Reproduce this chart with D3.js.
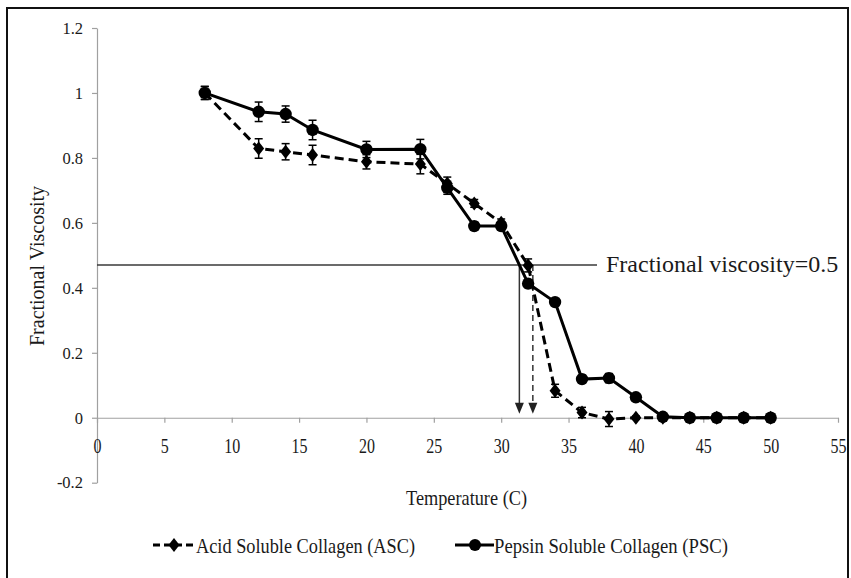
<!DOCTYPE html>
<html>
<head>
<meta charset="utf-8">
<script src="https://cdn.jsdelivr.net/npm/d3@7"></script>
<style>
body { margin: 0; background: #fff; }
text { font-family: "Liberation Serif", "Times New Roman", serif; fill: #1a1a1a; }
</style>
</head>
<body>
<script>
// temperatures (C) and fractional viscosity
var temps = [8, 12, 14, 16, 20, 24, 26, 28, 30, 32, 34, 36, 38, 40, 42, 44, 46, 48, 50];
var ascValues = [1.0, 0.829, 0.819, 0.809, 0.788, 0.781, 0.721, 0.66, 0.6, 0.469, 0.083, 0.016, -0.004, 0, 0, 0, 0, 0, 0];
var ascErrors = [0.02, 0.03, 0.025, 0.03, 0.022, 0.03, 0.02, 0.012, 0.012, 0.02, 0.02, 0.016, 0.023, 0.005, 0.004, 0.004, 0.004, 0.004, 0.004];
var pscValues = [1.0, 0.942, 0.935, 0.886, 0.826, 0.827, 0.708, 0.59, 0.59, 0.413, 0.356, 0.119, 0.122, 0.063, 0.003, 0, 0, 0, 0];
var pscErrors = [0.02, 0.03, 0.025, 0.03, 0.025, 0.03, 0.02, 0.012, 0.012, 0.012, 0.01, 0.012, 0.014, 0.01, 0.005, 0.005, 0.005, 0.005, 0.005];
var xTicks = [0, 5, 10, 15, 20, 25, 30, 35, 40, 45, 50, 55];
var yTicks = [-0.2, 0, 0.2, 0.4, 0.6, 0.8, 1, 1.2];
var refLevel = 0.47;
var pscCross = 31.35, ascCross = 32.35;

var w = 851;
var h = 578;

var svg = d3.select("body").append("svg")
  .attr("width", w)
  .attr("height", h);

svg.append("rect") //outer frame
  .attr("x", 7).attr("y", 8)
  .attr("width", 841).attr("height", 600)
  .attr("fill", "#fff")
  .attr("stroke", "#111")
  .attr("stroke-width", 2);

var x = d3.scaleLinear().domain([0, 55]).range([97, 838]);
var y = d3.scaleLinear().domain([-0.2, 1.2]).range([482.7, 28]);

var fmt = function (d) { return String(+d.toFixed(1)); };

// y axis
var gy = svg.append("g")
  .attr("transform", "translate(" + x(0) + ",0)")
  .call(d3.axisLeft(y).tickValues(yTicks).tickFormat(fmt).tickSize(5).tickSizeOuter(0).tickPadding(9));
gy.selectAll("text").style("font-size", "16.5px");

// x axis at zero
var gx = svg.append("g")
  .attr("transform", "translate(0," + y(0) + ")")
  .call(d3.axisBottom(x).tickValues(xTicks).tickSize(5).tickSizeOuter(0).tickPadding(16));
gx.selectAll("text").style("font-size", "20px").attr("transform", "scale(0.8,1)")
  .attr("x", function (d) { return 0; });

svg.selectAll(".domain, .tick line").attr("stroke", "#a0a0a0").attr("stroke-width", 1.2);

// axis titles
svg.append("text")
  .attr("transform", "translate(44,266) rotate(-90)")
  .attr("text-anchor", "middle")
  .style("font-size", "20px")
  .text("Fractional Viscosity");

svg.append("text")
  .attr("x", 406).attr("y", 505)
  .attr("textLength", 121).attr("lengthAdjust", "spacingAndGlyphs")
  .style("font-size", "21px")
  .text("Temperature (C)");

// reference line and arrows
svg.append("line")
  .attr("x1", x(0)).attr("x2", 597)
  .attr("y1", y(refLevel)).attr("y2", y(refLevel))
  .attr("stroke", "#3a3a3a").attr("stroke-width", 1.5);

svg.append("text")
  .attr("x", 606).attr("y", 272)
  .style("font-size", "24px")
  .text("Fractional viscosity=0.5");

var arrows = [{t: pscCross, dash: null}, {t: ascCross, dash: "6,4"}];
arrows.forEach(function (a) {
  var tipY = y(0) - 4;
  svg.append("line")
    .attr("x1", x(a.t)).attr("x2", x(a.t))
    .attr("y1", y(refLevel)).attr("y2", tipY - 9)
    .attr("stroke", "#333").attr("stroke-width", 1.5)
    .attr("stroke-dasharray", a.dash);
  svg.append("path")
    .attr("d", "M" + (x(a.t) - 4.5) + "," + (tipY - 11) + "L" + (x(a.t) + 4.5) + "," + (tipY - 11) + "L" + x(a.t) + "," + tipY + "Z")
    .attr("fill", "#222");
});

var diamond = "M0,-7L5.5,0L0,7L-5.5,0Z";

var drawSeries = function (values, errors, dash, marker) {
  var pts = temps.map(function (t, i) { return {t: t, v: values[i], e: errors[i]}; });
  var line = d3.line()
    .x(function (d) { return x(d.t); })
    .y(function (d) { return y(d.v); });
  svg.append("path")
    .datum(pts)
    .attr("d", line)
    .attr("fill", "none")
    .attr("stroke", "#000")
    .attr("stroke-width", 3)
    .attr("stroke-dasharray", dash);

  var eb = svg.append("g").selectAll("g")
    .data(pts)
    .enter()
    .append("g")
    .attr("stroke", "#000")
    .attr("stroke-width", 1.5);
  eb.append("line")
    .attr("x1", function (d) { return x(d.t); })
    .attr("x2", function (d) { return x(d.t); })
    .attr("y1", function (d) { return y(d.v - d.e); })
    .attr("y2", function (d) { return y(d.v + d.e); });
  [-1, 1].forEach(function (s) {
    eb.append("line")
      .attr("x1", function (d) { return x(d.t) - 4; })
      .attr("x2", function (d) { return x(d.t) + 4; })
      .attr("y1", function (d) { return y(d.v + s * d.e); })
      .attr("y2", function (d) { return y(d.v + s * d.e); });
  });

  if (marker == "circle") {
    svg.append("g").selectAll("circle")
      .data(pts)
      .enter()
      .append("circle")
      .attr("cx", function (d) { return x(d.t); })
      .attr("cy", function (d) { return y(d.v); })
      .attr("r", 6.2)
      .attr("fill", "#000");
  } else {
    svg.append("g").selectAll("path")
      .data(pts)
      .enter()
      .append("path")
      .attr("d", diamond)
      .attr("transform", function (d) { return "translate(" + x(d.t) + "," + y(d.v) + ")"; })
      .attr("fill", "#000");
  }
};

drawSeries(ascValues, ascErrors, "9,5", "diamond");
drawSeries(pscValues, pscErrors, null, "circle");

// legend
var ly = 545;
svg.append("line")
  .attr("x1", 153).attr("x2", 195).attr("y1", ly).attr("y2", ly)
  .attr("stroke", "#000").attr("stroke-width", 3).attr("stroke-dasharray", "7,4");
svg.append("path").attr("d", diamond).attr("transform", "translate(174," + ly + ")").attr("fill", "#000");
svg.append("text")
  .attr("x", 196).attr("y", ly + 8)
  .attr("textLength", 219).attr("lengthAdjust", "spacingAndGlyphs")
  .style("font-size", "22px")
  .text("Acid Soluble Collagen (ASC)");

svg.append("line")
  .attr("x1", 455).attr("x2", 494).attr("y1", ly).attr("y2", ly)
  .attr("stroke", "#000").attr("stroke-width", 3);
svg.append("circle").attr("cx", 475).attr("cy", ly).attr("r", 6).attr("fill", "#000");
svg.append("text")
  .attr("x", 494).attr("y", ly + 8)
  .attr("textLength", 234).attr("lengthAdjust", "spacingAndGlyphs")
  .style("font-size", "22px")
  .text("Pepsin Soluble Collagen (PSC)");
</script>
</body>
</html>
